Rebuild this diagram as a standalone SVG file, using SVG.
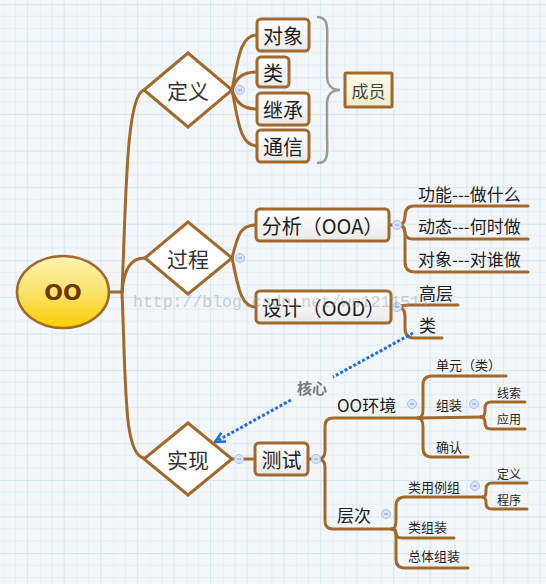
<svg xmlns="http://www.w3.org/2000/svg" width="546" height="584" viewBox="0 0 546 584">
<defs>
<pattern id="grid" x="3.3" y="4.1" width="36.6" height="36.6" patternUnits="userSpaceOnUse">
<rect width="36.6" height="36.6" fill="#f4f7f9"/>
<path d="M0,12.2H36.6M0,24.4H36.6M12.2,0V36.6M0,0V36.6" stroke="#e2edf4" stroke-width="1" fill="none"/>
<path d="M0,0.5H36.6M24.4,0V36.6" stroke="#d4e6f0" stroke-width="1" fill="none"/>
</pattern>
<linearGradient id="gRoot" x1="0" y1="0" x2="0" y2="1">
<stop offset="0" stop-color="#fef4b4"/>
<stop offset="0.5" stop-color="#fbe26a"/>
<stop offset="1" stop-color="#f8d000"/>
</linearGradient>
<linearGradient id="gBox" x1="0" y1="0" x2="0" y2="1">
<stop offset="0" stop-color="#ffffff"/>
<stop offset="1" stop-color="#e9e9e9"/>
</linearGradient>
<linearGradient id="gMem" x1="0" y1="0" x2="0" y2="1">
<stop offset="0" stop-color="#fdfcec"/>
<stop offset="1" stop-color="#f1edc8"/>
</linearGradient>
<marker id="arr" viewBox="0 0 12 12" refX="11" refY="6" markerWidth="12" markerHeight="12" markerUnits="userSpaceOnUse" orient="auto">
<path d="M1,1 L11,6 L1,11" fill="none" stroke="#1c6fd8" stroke-width="2.4"/>
</marker>
<style>
.c{fill:none;stroke:#a2692d;stroke-width:3;stroke-linecap:round;stroke-linejoin:round}
.box{fill:url(#gBox);stroke:#a2692d;stroke-width:3}
.dia{fill:#ffffff;stroke:#a2692d;stroke-width:3}
text{font-family:"Noto Sans CJK SC","Noto Sans",sans-serif;dominant-baseline:central}
.t20{font-size:20px;fill:#1e1e1e;text-anchor:middle}
.t21{font-size:21px;fill:#333;text-anchor:middle}
.t17{font-size:17px;fill:#1e1e1e}
.t16{font-size:16px;fill:#1e1e1e}
.t13{font-size:13px;fill:#1e1e1e}
.t12{font-size:12px;fill:#1e1e1e}
.col circle{fill:#dbe5fb;stroke:#a9bdf0;stroke-width:1}
.col path{stroke:#7e98d8;stroke-width:1}
</style>
</defs>
<rect width="546" height="584" fill="url(#grid)"/>

<g id="connectors">
<path class="c" d="M109,292 L122,292"/>
<path class="c" d="M122,292 C126,200 126,95 144,90"/>
<path class="c" d="M122,292 C124,270 130,258 145,258"/>
<path class="c" d="M122,292 C126,390 124,455 144,458"/>
<path class="c" d="M232,90 C238,60 240,35 257,35"/>
<path class="c" d="M232,90 C236,78 242,72 257,72"/>
<path class="c" d="M232,90 C236,102 242,109 257,109"/>
<path class="c" d="M232,90 C238,120 240,146 257,146"/>
<path class="c" d="M232,258 C238,235 240,225 256,225"/>
<path class="c" d="M232,258 C238,285 240,307 256,307"/>
<path class="c" d="M232,459 L255,459"/>
<path class="c" d="M308,459 L318,459"/>
<path class="c" d="M389,225 L398,225 Q405,225 405,216 Q405,206 414,206 L528,206"/>
<path class="c" d="M398,225 Q405,225 405,232 Q405,239 413,239 L528,239"/>
<path class="c" d="M398,225 Q405,225 405,234 L405,262 Q405,272 415,272 L528,272"/>
<path class="c" d="M391,307 L398,307 Q402,305 410,305 L458,305"/>
<path class="c" d="M398,307 Q405,307 405,317 L405,328 Q405,338 414,338 L442,338"/>
<path class="c" d="M318,459 Q325,459 325,451 L325,426 Q325,418 333,418 L420,418"/>
<path class="c" d="M318,459 Q325,459 325,467 L325,521 Q325,529 333,529 L393,529"/>
<path class="c" d="M418,418 Q423,418 423,409 L423,385 Q423,376 432,376 L506,376"/>
<path class="c" d="M418,418 L482,417"/>
<path class="c" d="M418,418 Q423,418 423,427 L423,448 Q423,457 432,457 L468,457"/>
<path class="c" d="M481,417 Q485,417 485,411 L485,408 Q485,402 491,402 L525,402"/>
<path class="c" d="M481,417 Q485,417 485,423 Q485,429 491,429 L525,429"/>
<path class="c" d="M392,529 Q396,529 396,520 L396,506 Q396,497 405,497 L483,497"/>
<path class="c" d="M392,529 Q396,529 396,533 Q396,538 402,538 L454,538"/>
<path class="c" d="M392,529 Q396,529 396,538 L396,559 Q396,568 405,568 L468,568"/>
<path class="c" d="M483,497 Q486,497 486,491 L486,489 Q486,483 492,483 L527,483"/>
<path class="c" d="M483,497 Q486,497 486,503 Q486,509 492,509 L527,509"/>
<path d="M317,17 C330,17 327,30 327,50 L327,76 C327,85 332,90 340,90 C332,90 327,95 327,104 L327,133 C327,152 330,163 317,163" fill="none" stroke="#9a9a9a" stroke-width="2.5"/>
<path d="M413,333 L333,377" fill="none" stroke="#1c6fd8" stroke-width="3" stroke-dasharray="3 2"/>
<path d="M291,400 L215,442" fill="none" stroke="#1c6fd8" stroke-width="3" stroke-dasharray="3 2" marker-end="url(#arr)"/>
<text x="312" y="387" style="font-size:15px;font-weight:bold;fill:#7a7a7a;text-anchor:middle">核心</text>
</g>

<g id="root">
<ellipse cx="63" cy="292" rx="46" ry="36" fill="url(#gRoot)" stroke="#a2692d" stroke-width="2.5"/>
<text x="63" y="292" style="font-family:'DejaVu Sans',sans-serif;font-size:22px;font-weight:bold;fill:#6a3800;text-anchor:middle">OO</text>
</g>

<g id="dingyi">
<path class="dia" d="M144,90 L188,53 L232,90 L188,127 Z"/>
<text class="t21" x="188" y="90">定义</text>
</g>
<g id="guocheng">
<path class="dia" d="M145,258 L188,222 L232,258 L188,294 Z"/>
<text class="t21" x="188" y="258">过程</text>
</g>
<g id="shixian">
<path class="dia" d="M144,459 L188,423 L232,459 L188,495 Z"/>
<text class="t21" x="188" y="459">实现</text>
</g>

<g id="duixiang"><rect class="box" x="257" y="19" width="52" height="32" rx="4"/><text class="t20" x="283" y="35">对象</text></g>
<g id="lei"><rect class="box" x="257" y="57" width="32" height="30" rx="4"/><text class="t20" x="273" y="72">类</text></g>
<g id="jicheng"><rect class="box" x="257" y="93" width="52" height="32" rx="4"/><text class="t20" x="283" y="109">继承</text></g>
<g id="tongxin"><rect class="box" x="257" y="130" width="52" height="32" rx="4"/><text class="t20" x="283" y="146">通信</text></g>
<g id="chengyuan"><rect x="345" y="73" width="47" height="34" fill="url(#gMem)" stroke="#a2692d" stroke-width="3" rx="1"/><text x="368.5" y="90" style="font-size:17px;fill:#444;text-anchor:middle">成员</text></g>

<g id="fenxi"><rect class="box" x="256" y="209" width="133" height="32" rx="4"/><text class="t20" x="322.5" y="225">分析（OOA）</text></g>
<g id="sheji"><rect class="box" x="256" y="291" width="135" height="32" rx="4"/><text class="t20" x="323.5" y="307">设计（OOD）</text></g>
<g id="ceshi"><rect class="box" x="255" y="443" width="53" height="32" rx="4"/><text class="t20" x="281.5" y="459">测试</text></g>

<g id="gongneng"><text class="t17" x="418" y="193">功能---做什么</text></g>
<g id="dongtai"><text class="t17" x="418" y="225">动态---何时做</text></g>
<g id="duixiang2"><text class="t17" x="418" y="258">对象---对谁做</text></g>
<g id="gaoceng"><text class="t17" x="419" y="292">高层</text></g>
<g id="lei2"><text class="t17" x="419" y="324">类</text></g>

<g id="ooenv"><text class="t17" x="337" y="404">OO环境</text></g>
<g id="cengci"><text class="t17" x="337" y="514">层次</text></g>
<g id="danyuan"><text class="t13" x="436" y="364">单元（类）</text></g>
<g id="zuzhuang"><text class="t13" x="436" y="404">组装</text></g>
<g id="queren"><text class="t13" x="436" y="446">确认</text></g>
<g id="xiansuo"><text class="t12" x="497" y="392">线索</text></g>
<g id="yingyong"><text class="t12" x="497" y="418">应用</text></g>
<g id="leiyonglizu"><text class="t13" x="408" y="486">类用例组</text></g>
<g id="leizuzhuang"><text class="t13" x="408" y="526">类组装</text></g>
<g id="zongtizuzhuang"><text class="t13" x="408" y="555">总体组装</text></g>
<g id="dingyi2"><text class="t12" x="497" y="473">定义</text></g>
<g id="chengxu"><text class="t12" x="497" y="499">程序</text></g>

<g id="collapse" class="col">
<g><circle cx="240" cy="90" r="4.5"/><path d="M238,90H242"/></g>
<g><circle cx="240" cy="258" r="4.5"/><path d="M238,258H242"/></g>
<g><circle cx="239" cy="459" r="4.5"/><path d="M237,459H241"/></g>
<g><circle cx="397" cy="225" r="4.5"/><path d="M395,225H399"/></g>
<g><circle cx="397" cy="307" r="4.5"/><path d="M395,307H399"/></g>
<g><circle cx="316" cy="459" r="4.5"/><path d="M314,459H318"/></g>
<g><circle cx="412" cy="404" r="4.5"/><path d="M410,404H414"/></g>
<g><circle cx="474" cy="404" r="4.5"/><path d="M472,404H476"/></g>
<g><circle cx="386" cy="514" r="4.5"/><path d="M384,514H388"/></g>
<g><circle cx="475" cy="486" r="4.5"/><path d="M473,486H477"/></g>
</g>

<text x="133" y="302" textLength="297" lengthAdjust="spacingAndGlyphs" style="font-family:'Liberation Mono',monospace;font-size:17px;fill:#9a9a9a;opacity:0.45">http://blog.csdn.net/ws1211511</text>
</svg>
